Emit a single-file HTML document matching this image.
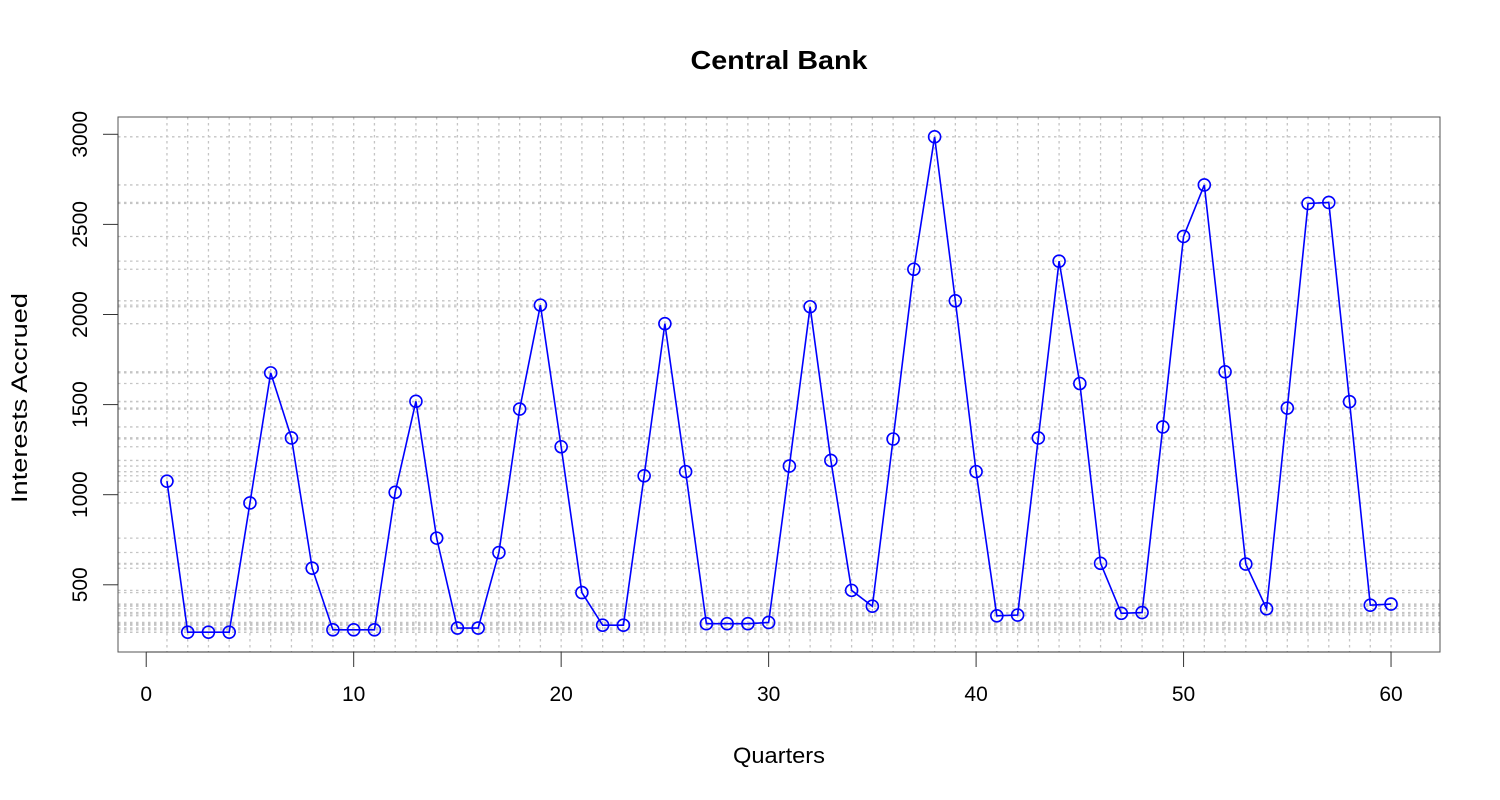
<!DOCTYPE html>
<html><head><meta charset="utf-8"><style>
html,body{margin:0;padding:0;background:#fff;}
svg{display:block;font-family:"Liberation Sans",Arial,sans-serif;}
</style></head><body>
<svg id="chart" width="1500" height="800" viewBox="0 0 1500 800">
<text x="779" y="69" text-anchor="middle" font-size="26" font-weight="bold" textLength="177" lengthAdjust="spacingAndGlyphs">Central Bank</text>
<g id="grid"></g>
<g id="series"></g>
<rect x="118" y="117" width="1322" height="535" fill="none" stroke="#555" stroke-width="1"/>
<g id="xaxis"></g>
<g id="yaxis"></g>
<text x="779" y="763" text-anchor="middle" font-size="22" textLength="92" lengthAdjust="spacingAndGlyphs">Quarters</text>
<text transform="translate(27,398) rotate(-90)" text-anchor="middle" font-size="22" textLength="210" lengthAdjust="spacingAndGlyphs">Interests Accrued</text>
</svg>
<script>
const quarters = Array.from({length:60},(_, i)=>i+1);
const interest = [1075,237,237,237,954,1676,1315,592,250,250,250,1013,1518,759,260,260,679,1475,2052,1266,457,276,276,1105,1949,1128,284,284,284,291,1159,2043,1190,469,381,1309,2251,2986,2076,1128,328,332,1315,2296,1617,619,342,346,1376,2433,2719,1682,615,367,1481,2616,2622,1516,387,393];
const xTicks = [0,10,20,30,40,50,60];
const yTicks = [500,1000,1500,2000,2500,3000];

const NS="http://www.w3.org/2000/svg";
const L=118,R=1440,T=117,B=652;
const xmin=Math.min(...quarters), xmax=Math.max(...quarters);
const ymin=Math.min(...interest), ymax=Math.max(...interest);
const x0=xmin-(xmax-xmin)*0.04, x1=xmax+(xmax-xmin)*0.04;
const y0=ymin-(ymax-ymin)*0.04, y1=ymax+(ymax-ymin)*0.04;
const sx=v=>L+(v-x0)/(x1-x0)*(R-L);
const sy=v=>B-(v-y0)/(y1-y0)*(B-T);
function mk(tag,attrs,parent){const e=document.createElementNS(NS,tag);for(const k in attrs)e.setAttribute(k,attrs[k]);parent.appendChild(e);return e;}
const grid=document.getElementById('grid');
quarters.forEach(q=>{
  const l=mk('line',{x1:sx(q),x2:sx(q),y1:T,y2:B,stroke:'#c4c4c4','stroke-width':1.3,'stroke-dasharray':'2.5,3.5'},grid);
  
  
});
interest.forEach(v=>{
  const l=mk('line',{x1:L,x2:R,y1:sy(v),y2:sy(v),stroke:'#c4c4c4','stroke-width':1.3,'stroke-dasharray':'2.5,3.5'},grid);
  
  
});
const ser=document.getElementById('series');
const pl=mk('polyline',{points:quarters.map((q,i)=>sx(q)+','+sy(interest[i])).join(' '),fill:'none',stroke:'#0000ff','stroke-width':1.6},ser);


quarters.forEach((q,i)=>{
  const c=mk('circle',{cx:sx(q),cy:sy(interest[i]),r:6,fill:'none',stroke:'#0000ff','stroke-width':1.6},ser);
  
  
});
const xa=document.getElementById('xaxis');
mk('line',{x1:sx(xTicks[0]),x2:sx(xTicks[xTicks.length-1]),y1:B,y2:B,stroke:'#333'},xa);
xTicks.forEach(t=>{
  mk('line',{x1:sx(t),x2:sx(t),y1:B,y2:B+15,stroke:'#333'},xa);
  const tx=mk('text',{x:sx(t),y:701,'text-anchor':'middle','font-size':21},xa);
  tx.textContent=t;
  
  
});
const ya=document.getElementById('yaxis');
mk('line',{x1:L,x2:L,y1:sy(yTicks[0]),y2:sy(yTicks[yTicks.length-1]),stroke:'#333'},ya);
yTicks.forEach(t=>{
  mk('line',{x1:L-15,x2:L,y1:sy(t),y2:sy(t),stroke:'#333'},ya);
  const tx=mk('text',{transform:`translate(87,${sy(t)}) rotate(-90)`,'text-anchor':'middle','font-size':21},ya);
  tx.textContent=t;
  
  
});
</script>
</body></html>
